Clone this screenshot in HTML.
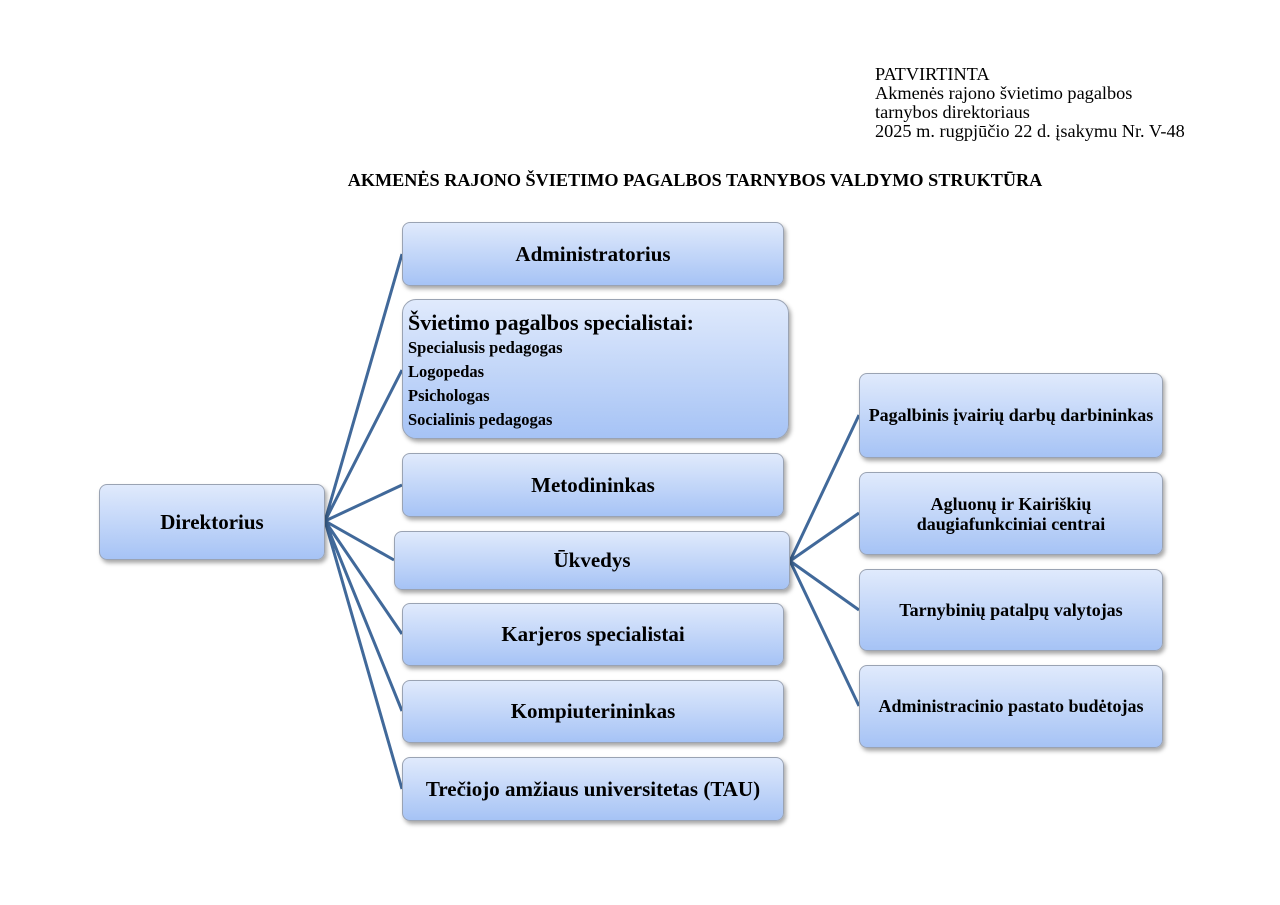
<!DOCTYPE html>
<html><head><meta charset="utf-8"><style>
body{margin:0;width:1280px;height:905px;background:#fff;position:relative;font-family:"Liberation Serif",serif;overflow:hidden}
.b{position:absolute;box-sizing:border-box;border:1px solid #9aa3b3;border-radius:8px;background:linear-gradient(#e0eafc,#a6c3f5);box-shadow:2px 3px 4px rgba(0,0,0,.35);display:flex;align-items:center;justify-content:center;text-align:center;font-weight:bold;color:#000}
.t{position:absolute;font-size:18.3px;line-height:19px}
</style></head><body>
<div class="t" style="left:875px;top:65px">PATVIRTINTA<br>Akmenės rajono švietimo pagalbos<br>tarnybos direktoriaus<br>2025 m. rugpjūčio 22 d. įsakymu Nr. V-48</div>
<div class="t" style="left:0;width:1390px;text-align:center;top:171px;font-weight:bold;font-size:18.2px">AKMENĖS RAJONO ŠVIETIMO PAGALBOS TARNYBOS VALDYMO STRUKTŪRA</div>
<svg style="position:absolute;left:0;top:0" width="1280" height="905"><g stroke="#41699a" stroke-width="3" fill="none">
<path d="M325 521L402 254M325 521L402 370M325 521L402 485M325 521L394 560M325 521L402 634M325 521L402 711M325 521L402 789"/>
<path d="M790 561L859 415M790 561L859 513M790 561L859 610M790 561L859 706"/></g></svg>
<div class="b" style="left:99px;top:484px;width:226px;height:76px;font-size:21px">Direktorius</div>
<div class="b" style="left:402px;top:222px;width:382px;height:64px;font-size:21px">Administratorius</div>
<div class="b" style="left:402px;top:299px;width:387px;height:140px;border-radius:14px;display:block;text-align:left;padding:9px 0 0 5px">
<div style="font-size:22px;line-height:27px">Švietimo pagalbos specialistai:</div>
<div style="font-size:16.5px;line-height:24px">Specialusis pedagogas<br>Logopedas<br>Psichologas<br>Socialinis pedagogas</div></div>
<div class="b" style="left:402px;top:453px;width:382px;height:64px;font-size:21px">Metodininkas</div>
<div class="b" style="left:394px;top:531px;width:396px;height:59px;font-size:21px">Ūkvedys</div>
<div class="b" style="left:402px;top:603px;width:382px;height:63px;font-size:21px">Karjeros specialistai</div>
<div class="b" style="left:402px;top:680px;width:382px;height:63px;font-size:21px">Kompiuterininkas</div>
<div class="b" style="left:402px;top:757px;width:382px;height:64px;font-size:21px">Trečiojo amžiaus universitetas (TAU)</div>
<div class="b" style="left:859px;top:373px;width:304px;height:85px;font-size:18px">Pagalbinis įvairių darbų darbininkas</div>
<div class="b" style="left:859px;top:472px;width:304px;height:83px;font-size:18px;line-height:20px">Agluonų ir Kairiškių<br>daugiafunkciniai centrai</div>
<div class="b" style="left:859px;top:569px;width:304px;height:82px;font-size:18px">Tarnybinių patalpų valytojas</div>
<div class="b" style="left:859px;top:665px;width:304px;height:83px;font-size:18px">Administracinio pastato budėtojas</div>
</body></html>
